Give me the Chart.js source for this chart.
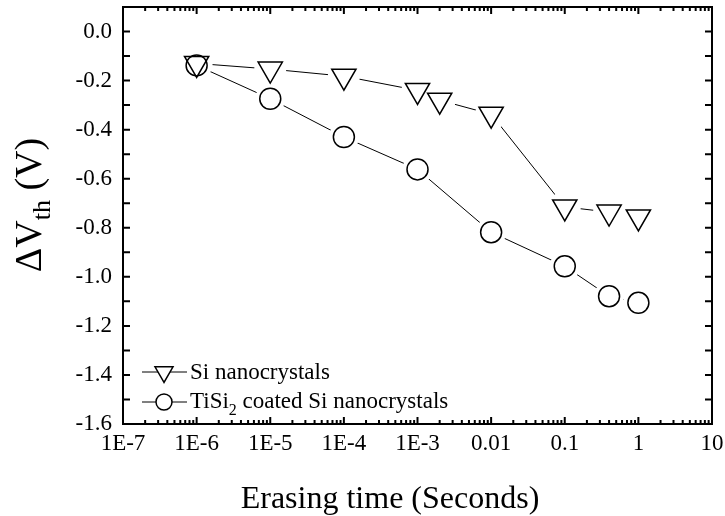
<!DOCTYPE html>
<html>
<head>
<meta charset="utf-8">
<script src="https://cdn.jsdelivr.net/npm/chart.js@4/dist/chart.umd.min.js"></script>
<style>
  body { margin: 0; background: #fff; }
  #wrap { width: 725px; height: 516px; }
</style>
</head>
<body>
<div id="wrap"><canvas id="chart" width="725" height="516"></canvas></div>
<script>
// axis ticks
const xTickValues = [1e-7, 1e-6, 1e-5, 1e-4, 1e-3, 0.01, 0.1, 1, 10];
const xTickLabels = ['1E-7', '1E-6', '1E-5', '1E-4', '1E-3', '0.01', '0.1', '1', '10'];
const yTickValues = [-1.6, -1.4, -1.2, -1.0, -0.8, -0.6, -0.4, -0.2, 0.0];
const yTickLabels = ['-1.6', '-1.4', '-1.2', '-1.0', '-0.8', '-0.6', '-0.4', '-0.2', '0.0'];

// Si nanocrystals
const siTime = [1e-6, 1e-5, 1e-4, 1e-3, 2e-3, 0.01, 0.1, 0.4, 1];
const siShift = [-0.13, -0.153, -0.182, -0.24, -0.28, -0.337, -0.715, -0.736, -0.756];

// TiSi2 coated Si nanocrystals
const tisiTime = [1e-6, 1e-5, 1e-4, 1e-3, 0.01, 0.1, 0.4, 1];
const tisiShift = [-0.138, -0.274, -0.43, -0.562, -0.818, -0.957, -1.079, -1.106];

const seriesNames = ['Si nanocrystals', 'TiSi', '2', ' coated Si nanocrystals'];

const serif = '"Liberation Serif", "DejaVu Serif", serif';

function toPoints(xs, ys) {
  return xs.map((x, i) => ({ x: x, y: ys[i] }));
}

const siData = toPoints(siTime, siShift);
const tisiData = toPoints(tisiTime, tisiShift);

function markerSet(data, style, radius, rot) {
  return {
    data: data,
    showLine: false,
    pointStyle: style,
    pointRadius: radius,
    pointRotation: rot,
    pointBorderColor: '#000',
    pointBorderWidth: 1.5,
    pointBackgroundColor: 'rgba(0,0,0,0)',
    order: 0
  };
}

function haloSet(data, radius) {
  return {
    data: data,
    showLine: false,
    pointStyle: 'circle',
    pointRadius: radius,
    pointBorderWidth: 0,
    pointBorderColor: '#fff',
    pointBackgroundColor: '#fff',
    order: 1
  };
}

function lineSet(data) {
  return {
    data: data,
    borderColor: '#000',
    borderWidth: 1,
    pointRadius: 0,
    tension: 0,
    order: 2
  };
}

function noPad(scale) {
  scale.paddingTop = 0;
  scale.paddingBottom = 0;
  scale.paddingLeft = 0;
  scale.paddingRight = 0;
}

// frame, inward ticks, legend and axis titles
const decorPlugin = {
  id: 'decor',
  afterDatasetsDraw(chart) {
    const ctx = chart.ctx;
    const a = chart.chartArea;
    const xs = chart.scales.x;
    const ys = chart.scales.y;
    ctx.save();
    ctx.strokeStyle = '#000';
    ctx.lineWidth = 2;
    ctx.strokeRect(a.left, a.top, a.right - a.left, a.bottom - a.top);

    ctx.beginPath();
    for (let e = -7; e <= 1; e++) {
      const px = xs.getPixelForValue(Math.pow(10, e));
      ctx.moveTo(px, a.bottom); ctx.lineTo(px, a.bottom - 7);
      ctx.moveTo(px, a.top); ctx.lineTo(px, a.top + 7);
      if (e === 1) continue;
      for (let m = 2; m <= 9; m++) {
        const mx = xs.getPixelForValue(m * Math.pow(10, e));
        ctx.moveTo(mx, a.bottom); ctx.lineTo(mx, a.bottom - 4);
        ctx.moveTo(mx, a.top); ctx.lineTo(mx, a.top + 4);
      }
    }
    for (let k = -16; k <= 0; k++) {
      const py = ys.getPixelForValue(k / 10);
      ctx.moveTo(a.left, py); ctx.lineTo(a.left + 7, py);
      ctx.moveTo(a.right, py); ctx.lineTo(a.right - 7, py);
    }
    ctx.stroke();
    ctx.restore();
  },
  afterDraw(chart) {
    const ctx = chart.ctx;
    ctx.save();
    ctx.fillStyle = '#000';
    ctx.strokeStyle = '#000';

    // legend
    const lx0 = 142, lx1 = 187, mx = 164;
    const rows = [372, 402];
    ctx.lineWidth = 1;
    rows.forEach(y => {
      ctx.beginPath();
      ctx.moveTo(lx0, y); ctx.lineTo(lx1, y);
      ctx.stroke();
    });
    // triangle
    ctx.lineWidth = 1.5;
    const r = 10.4;
    ctx.beginPath();
    ctx.moveTo(mx, rows[0] + r);
    ctx.lineTo(mx - r * Math.sin(Math.PI / 3), rows[0] - r / 2);
    ctx.lineTo(mx + r * Math.sin(Math.PI / 3), rows[0] - r / 2);
    ctx.closePath();
    ctx.fillStyle = '#fff';
    ctx.fill();
    ctx.stroke();
    // circle
    ctx.beginPath();
    ctx.arc(mx, rows[1], 8, 0, Math.PI * 2);
    ctx.fill();
    ctx.stroke();

    ctx.fillStyle = '#000';
    ctx.textAlign = 'left';
    ctx.textBaseline = 'alphabetic';
    ctx.font = '23px ' + serif;
    ctx.fillText(seriesNames[0], 190, 379);
    let tx = 190;
    ctx.fillText(seriesNames[1], tx, 408);
    tx += ctx.measureText(seriesNames[1]).width;
    ctx.font = '16px ' + serif;
    ctx.fillText(seriesNames[2], tx, 415);
    tx += ctx.measureText(seriesNames[2]).width;
    ctx.font = '23px ' + serif;
    ctx.fillText(seriesNames[3], tx, 408);

    // x title
    ctx.font = '32px ' + serif;
    ctx.textAlign = 'center';
    ctx.fillText('Erasing time (Seconds)', 390, 508);

    // y title
    ctx.translate(41, 205);
    ctx.rotate(-Math.PI / 2);
    ctx.textAlign = 'left';
    const big = '38px ' + serif, small = '26px ' + serif;
    ctx.font = big;
    const w1 = ctx.measureText('\u0394V').width;
    const w3 = ctx.measureText(' (V)').width;
    ctx.font = small;
    const w2 = ctx.measureText('th').width;
    let sx = -(w1 + w2 + w3) / 2;
    ctx.font = big;
    ctx.fillText('\u0394V', sx, 0);
    sx += w1;
    ctx.font = small;
    ctx.fillText('th', sx, 9);
    sx += w2;
    ctx.font = big;
    ctx.fillText(' (V)', sx, 0);
    ctx.restore();
  }
};

const ctx = document.getElementById('chart').getContext('2d');
new Chart(ctx, {
  type: 'line',
  data: {
    datasets: [
      markerSet(siData, 'triangle', 14, 180),
      markerSet(tisiData, 'circle', 10.5, 0),
      haloSet(siData, 16),
      haloSet(tisiData, 15),
      lineSet(siData),
      lineSet(tisiData)
    ]
  },
  options: {
    responsive: false,
    devicePixelRatio: 1,
    animation: false,
    events: [],
    layout: { autoPadding: false, padding: { left: 0, top: 7, right: 13, bottom: 0 } },
    plugins: {
      legend: { display: false },
      tooltip: { enabled: false }
    },
    scales: {
      x: {
        type: 'logarithmic',
        min: 1e-7,
        max: 10,
        grid: { display: false, drawTicks: false },
        border: { display: false },
        afterBuildTicks(scale) {
          scale.ticks = xTickValues.map(v => ({ value: v }));
        },
        afterFit(scale) { scale.height = 92; noPad(scale); },
        ticks: {
          autoSkip: false,
          maxRotation: 0,
          padding: 6,
          color: '#000',
          font: { family: serif, size: 23 },
          callback: (v, i) => xTickLabels[i]
        }
      },
      y: {
        type: 'linear',
        min: -1.6,
        max: 0.1,
        grid: { display: false, drawTicks: false },
        border: { display: false },
        afterBuildTicks(scale) {
          scale.ticks = yTickValues.map(v => ({ value: v }));
        },
        afterFit(scale) { scale.width = 123; noPad(scale); },
        ticks: {
          autoSkip: false,
          padding: 11,
          color: '#000',
          font: { family: serif, size: 23 },
          callback: (v, i) => yTickLabels[i]
        }
      }
    }
  },
  plugins: [decorPlugin]
});
</script>
</body>
</html>
